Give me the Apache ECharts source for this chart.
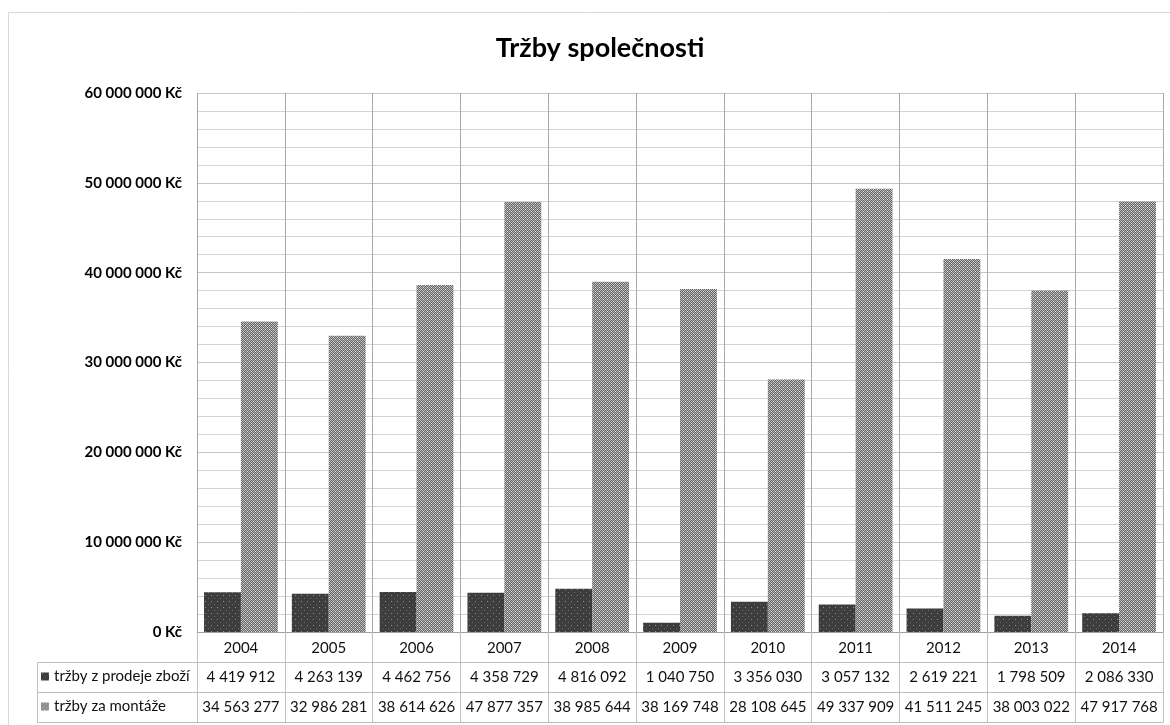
<!DOCTYPE html>
<html>
<head>
<meta charset="utf-8">
<script src="https://cdn.jsdelivr.net/npm/echarts@6/dist/echarts.min.js"></script>
<style>
  html, body { margin: 0; padding: 0; background: #fff; }
  #chart { width: 1170px; height: 725px; }
</style>
</head>
<body>
<div id="chart"></div>
<script>
// Yearly revenue of the company, split into goods sales and installation work
const years = ['2004', '2005', '2006', '2007', '2008', '2009', '2010', '2011', '2012', '2013', '2014'];
const salesGoods = [4419912, 4263139, 4462756, 4358729, 4816092, 1040750, 3356030, 3057132, 2619221, 1798509, 2086330];
const salesAssembly = [34563277, 32986281, 38614626, 47877357, 38985644, 38169748, 28108645, 49337909, 41511245, 38003022, 47917768];
const seriesNames = ['tržby z prodeje zboží', 'tržby za montáže'];
const yTicks = { min: 0, max: 60000000, step: 10000000 };

// Thousands separated by spaces, Czech style
const fmt = n => String(n).replace(/\B(?=(\d{3})+(?!\d))/g, ' ');

// Small tiled fills for the two bar series
function makePattern(size, paint) {
  const c = document.createElement('canvas');
  c.width = size; c.height = size;
  const ctx = c.getContext('2d');
  paint(ctx);
  return { image: c, repeat: 'repeat' };
}
const darkFill = makePattern(6, ctx => {
  ctx.fillStyle = '#3d3d3d'; ctx.fillRect(0, 0, 6, 6);
  ctx.fillStyle = '#8e8e8e'; ctx.fillRect(1, 1, 1, 1);
  ctx.fillStyle = '#6a6a6a'; ctx.fillRect(4, 4, 1, 1);
});
const lightFill = makePattern(4, ctx => {
  const L = '#b8b8b8', D = '#646464', W = '#e2e2e2';
  const grid = [
    [L, D, L, D],
    [D, W, D, L],
    [L, D, L, D],
    [D, L, D, W]
  ];
  grid.forEach((row, y) => row.forEach((col, x) => { ctx.fillStyle = col; ctx.fillRect(x, y, 1, 1); }));
});

const FONT = 'Lato, "Open Sans", sans-serif';
const tableLine = '#bfbfbf';
const rowH = 30;

function tableAxis(offset, formatter, showLabels) {
  return {
    type: 'category',
    data: years,
    position: 'bottom',
    offset: offset,
    boundaryGap: true,
    axisLine: { show: true, lineStyle: { color: tableLine, width: 1 } },
    axisTick: { show: showLabels, interval: 0, length: rowH, lineStyle: { color: tableLine } },
    axisLabel: {
      show: showLabels, interval: 0, margin: 8, fontSize: 15, fontFamily: FONT, color: '#111',
      formatter: formatter
    },
    splitLine: { show: false }
  };
}

function legendRow(name, top) {
  return {
    data: [{ name: name, icon: 'rect' }], left: 41, top: top, padding: 0,
    itemWidth: 8, itemHeight: 8, selectedMode: false,
    textStyle: { fontFamily: FONT, fontSize: 15, color: '#111' }
  };
}

const chart = echarts.init(document.getElementById('chart'), null, { renderer: 'canvas' });

const option = {
  backgroundColor: '#ffffff',
  animation: false,
  title: {
    text: 'Tržby společnosti',
    left: 595,
    textAlign: 'center',
    top: 30,
    textStyle: { fontFamily: FONT, fontWeight: 'bold', fontSize: 27, color: '#000' }
  },
  legend: [
    legendRow(seriesNames[0], 669),
    legendRow(seriesNames[1], 699)
  ],
  grid: { left: 197, right: 7, top: 93, bottom: 93, containLabel: false },
  xAxis: [
    {
      type: 'category',
      data: years,
      position: 'bottom',
      boundaryGap: true,
      axisLine: { show: true, lineStyle: { color: '#a0a0a0', width: 1 } },
      axisTick: { show: true, interval: 0, length: rowH, lineStyle: { color: tableLine } },
      axisLabel: { interval: 0, margin: 9, fontSize: 15, fontFamily: FONT, color: '#111' },
      splitLine: { show: true, interval: 0, lineStyle: { color: '#a8a8a8', width: 1 } }
    },
    tableAxis(rowH, (v, i) => fmt(salesGoods[i]), true),
    tableAxis(rowH * 2, (v, i) => fmt(salesAssembly[i]), true),
    tableAxis(rowH * 3, null, false)
  ],
  yAxis: {
    type: 'value',
    min: yTicks.min,
    max: yTicks.max,
    interval: yTicks.step,
    axisLine: { show: false },
    axisTick: { show: false },
    axisLabel: {
      margin: 15, fontSize: 15, fontWeight: 'bold', fontFamily: FONT, color: '#000',
      formatter: v => fmt(v) + ' Kč'
    },
    splitLine: { show: true, lineStyle: { color: '#c4c4c4', width: 1 } },
    minorTick: { show: false, splitNumber: 5 },
    minorSplitLine: { show: true, lineStyle: { color: '#d4d4d4', width: 1 } }
  },
  series: [
    {
      name: seriesNames[0],
      type: 'bar',
      data: salesGoods,
      barGap: '0%',
      barCategoryGap: '16%',
      itemStyle: { color: darkFill },
      z: 3
    },
    {
      name: seriesNames[1],
      type: 'bar',
      data: salesAssembly,
      barGap: '0%',
      barCategoryGap: '16%',
      itemStyle: { color: lightFill },
      z: 3
    }
  ],
  graphic: [
    // outer frame of the chart area
    { type: 'rect', silent: true, z: -10,
      shape: { x: 8.5, y: 12.5, width: 1170, height: 720 },
      style: { fill: 'none', stroke: '#d9d9d9', lineWidth: 1 } },
    // header column of the data table
    { type: 'line', silent: true, shape: { x1: 37, y1: 662.5, x2: 197, y2: 662.5 }, style: { stroke: tableLine } },
    { type: 'line', silent: true, shape: { x1: 37, y1: 692.5, x2: 197, y2: 692.5 }, style: { stroke: tableLine } },
    { type: 'line', silent: true, shape: { x1: 37, y1: 722.5, x2: 197, y2: 722.5 }, style: { stroke: tableLine } },
    { type: 'line', silent: true, shape: { x1: 37.5, y1: 662, x2: 37.5, y2: 723 }, style: { stroke: tableLine } }
  ]
};

chart.setOption(option);
</script>
</body>
</html>
